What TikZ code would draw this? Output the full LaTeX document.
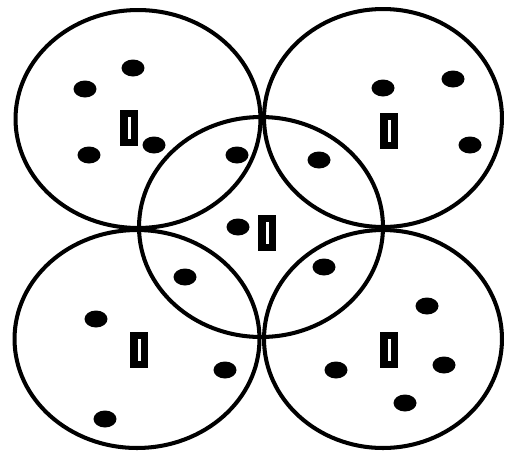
\documentclass[tikz,border=0pt]{standalone}
\usepackage{tikz}
\usetikzlibrary{shapes.geometric, positioning}
\tikzset{
    % Cluster outlines
    clusterring/.style={
        ellipse,
        draw=black,
        line width=2.3pt,
        inner sep=0pt,
        minimum width=4.9cm,
        minimum height=4.36cm
    },
    % Member nodes
    memberdot/.style={
        ellipse,
        fill=black,
        draw=none,
        inner sep=0pt,
        minimum width=0.46cm,
        minimum height=0.34cm
    },
    % Cluster heads
    headbox/.style={
        rectangle,
        draw=black,
        fill=white,
        line width=0.15cm,
        inner sep=0pt,
        minimum width=0.21cm,
        minimum height=0.58cm
    }
}
\begin{document}
\begin{tikzpicture}[x=0.02cm, y=-0.02cm]
    \useasboundingbox (0,0) rectangle (507,454);
    \fill[white] (0,0) rectangle (507,454);

    % clusters
    \node[clusterring] (tl) at (138,119) {};
    \node[clusterring, minimum width=4.76cm] (tr) at (383,118) {};
    \node[clusterring, minimum width=4.88cm, minimum height=4.4cm] (mid) at (261,227) {};
    \node[clusterring] (bl) at (137,339) {};
    \node[clusterring, minimum width=4.76cm] (br) at (383,339) {};

    % heads
    \node[headbox] (tlhead) at (129,128) {};
    \node[headbox] (trhead) at (389,131) {};
    \node[headbox] (midhead) at (267,233) {};
    \node[headbox] (blhead) at (139,350) {};
    \node[headbox] (brhead) at (389,350) {};

    % top left members
    \node[memberdot] (tla) at (133,68) {};
    \node[memberdot] (tlb) at (85,89) {};
    \node[memberdot] (tlc) at (89,155) {};
    \node[memberdot] (tld) at (154,145) {};
    \node[memberdot] (tle) at (237,155) {};

    % top right members
    \node[memberdot] (tra) at (383,88) {};
    \node[memberdot] (trb) at (453,79) {};
    \node[memberdot] (trc) at (470,145) {};
    \node[memberdot] (trd) at (319,160) {};

    % middle member
    \node[memberdot] (mida) at (238,227) {};

    % bottom left members
    \node[memberdot] (bla) at (185,277) {};
    \node[memberdot] (blb) at (96,319) {};
    \node[memberdot] (blc) at (225,370) {};
    \node[memberdot] (bld) at (105,419) {};

    % bottom right members
    \node[memberdot] (bra) at (324,267) {};
    \node[memberdot] (brb) at (427,306) {};
    \node[memberdot] (brc) at (336,370) {};
    \node[memberdot] (brd) at (444,365) {};
    \node[memberdot] (bre) at (405,403) {};
\end{tikzpicture}
\end{document}
